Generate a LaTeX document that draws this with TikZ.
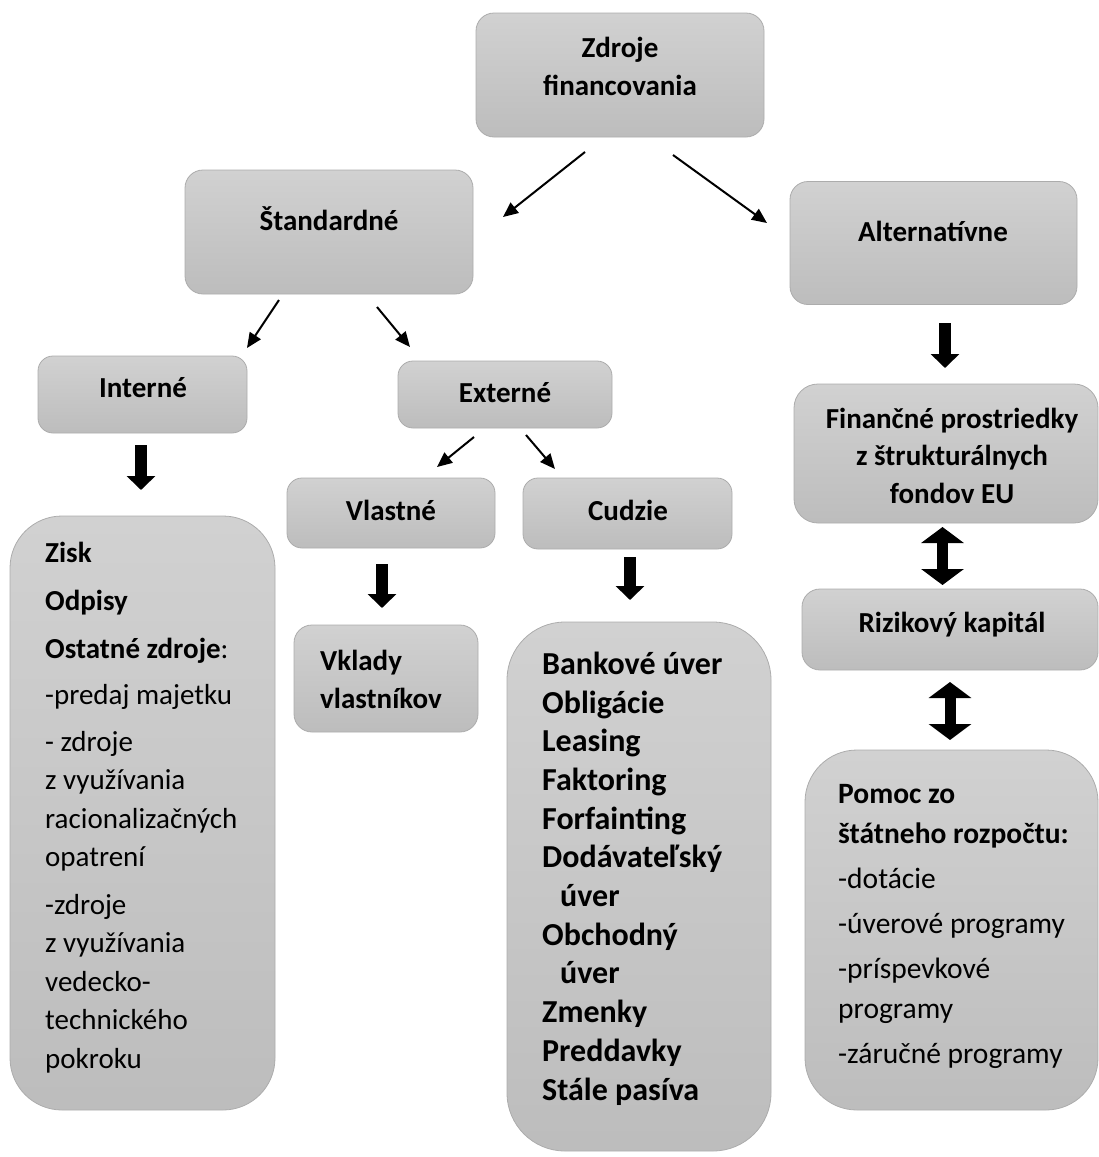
\documentclass[tikz,border=0pt]{standalone}
\usepackage{fontspec}
\setmainfont{Carlito}
\usetikzlibrary{arrows.meta}

\tikzset{
	box/.style={draw=gray!65, line width=0.8pt, rounded corners=18pt, top color=gray!36, bottom color=gray!52, inner sep=0pt},
	bigbox/.style={box, rounded corners=52pt},
	head/.style={font=\fontsize{29}{37.5}\selectfont\bfseries, align=center, inner sep=0pt},
	list/.style={font=\fontsize{29}{38.5}\selectfont, align=left, inner sep=0pt},
	thinarr/.style={line width=2pt, -{Triangle[length=15pt,width=13pt]}},
	blockarr/.style={line width=12pt, -{Triangle[length=14pt,width=28pt]}},
	dblarr/.style={line width=11pt, {Triangle[length=16pt,width=42pt]}-{Triangle[length=16pt,width=42pt]}}
}

\begin{document}
\begin{tikzpicture}[x=1pt,y=-1pt]
	\useasboundingbox (0,0) rectangle (1099,1157);

	% zeichne Boxen
	\node[box, minimum width=288pt, minimum height=124pt] (zdroje) at (620,75) {};
	\node[box, minimum width=288pt, minimum height=124pt] (standard) at (329,232) {};
	\node[box, minimum width=287pt, minimum height=123pt] (altern) at (933.5,243) {};
	\node[box, rounded corners=15pt, minimum width=209pt, minimum height=77pt] (interne) at (142.5,394.5) {};
	\node[box, rounded corners=15pt, minimum width=214pt, minimum height=67pt] (externe) at (505,394.5) {};
	\node[box, rounded corners=15pt, minimum width=208pt, minimum height=70pt] (vlastne) at (391,513) {};
	\node[box, rounded corners=15pt, minimum width=209pt, minimum height=71pt] (cudzie) at (627.5,513.5) {};
	\node[bigbox, minimum width=265pt, minimum height=594pt] (zoznamint) at (142.5,813) {};
	\node[box, minimum width=184pt, minimum height=107pt] (vklady) at (386,678.5) {};
	\node[bigbox, rounded corners=58pt, minimum width=264pt, minimum height=529pt] (zoznamcud) at (639,886.5) {};
	\node[box, rounded corners=24pt, minimum width=304pt, minimum height=139pt] (fondy) at (946,453.5) {};
	\node[box, minimum width=296pt, minimum height=81pt] (rizikovy) at (950,629.5) {};
	\node[bigbox, minimum width=293pt, minimum height=360pt] (pomoc) at (951.5,930) {};

	% zeichne Texte
	\node[head, anchor=base] (tzdroje) at (620,95) {Zdroje\\financovania};
	\node[head, anchor=base] (tstandard) at (329,230) {Štandardné};
	\node[head, anchor=base] (taltern) at (933,241) {Alternatívne};
	\node[head, anchor=base] (tinterne) at (143,397) {Interné};
	\node[head, anchor=base] (texterne) at (505,402) {Externé};
	\node[head, anchor=base] (tvlastne) at (391,520) {Vlastné};
	\node[head, anchor=base] (tcudzie) at (628,520) {Cudzie};
	\node[head, align=left, anchor=base west] (tvklady) at (320,708) {Vklady\\vlastníkov};
	\node[head, anchor=base] (tfondy) at (952,503) {Finančné prostriedky\\z štrukturálnych\\fondov EU};
	\node[head, anchor=base] (trizikovy) at (952,632) {Rizikový kapitál};
	\node[list, anchor=base west] (tzoznamint) at (45,1068) {\textbf{Zisk}\\[9.5pt]
		\textbf{Odpisy}\\[9.5pt]
		\textbf{Ostatné zdroje}:\\[8pt]
		-predaj majetku\\[8pt]
		- zdroje\\
		z využívania\\
		racionalizačných\\
		opatrení\\[9pt]
		-zdroje\\
		z využívania\\
		vedecko-\\
		technického\\
		pokroku};
	\node[list, font=\fontsize{32}{38.7}\selectfont\bfseries, anchor=base west] (tzoznamcud) at (542,1100) {Bankové úver\\
		Obligácie\\
		Leasing\\
		Faktoring\\
		Forfainting\\
		Dodávateľský\\
		\hspace*{18pt}úver\\
		Obchodný\\
		\hspace*{18pt}úver\\
		Zmenky\\
		Preddavky\\
		Stále pasíva};
	\node[list, font=\fontsize{29.5}{40}\selectfont, anchor=base west] (tpomoc) at (838,1063) {\textbf{Pomoc zo}\\
		\textbf{štátneho rozpočtu:}\\[5pt]
		-dotácie\\[5pt]
		-úverové programy\\[5pt]
		-príspevkové\\
		programy\\[5pt]
		-záručné programy};

	% zeichne Pfeile
	\coordinate (a1) at (585,152);
	\coordinate (a2) at (503,217);
	\coordinate (a3) at (673,155);
	\coordinate (a4) at (767,223);
	\coordinate (b1) at (279,300);
	\coordinate (b2) at (247,348);
	\coordinate (b3) at (377,307);
	\coordinate (b4) at (410,347);
	\coordinate (c1) at (474,437);
	\coordinate (c2) at (437,467);
	\coordinate (c3) at (526,435);
	\coordinate (c4) at (555,469);
	\draw[thinarr] (a1) -- (a2);
	\draw[thinarr] (a3) -- (a4);
	\draw[thinarr] (b1) -- (b2);
	\draw[thinarr] (b3) -- (b4);
	\draw[thinarr] (c1) -- (c2);
	\draw[thinarr] (c3) -- (c4);

	% zeichne Blockpfeile
	\coordinate (d1) at (141,445);
	\coordinate (d2) at (141,490);
	\coordinate (e1) at (382,564);
	\coordinate (e2) at (382,608);
	\coordinate (f1) at (630,557);
	\coordinate (f2) at (630,600);
	\coordinate (g1) at (945,323);
	\coordinate (g2) at (945,368);
	\coordinate (h1) at (942.5,527);
	\coordinate (h2) at (942.5,585);
	\coordinate (k1) at (950,682);
	\coordinate (k2) at (950,740);
	\draw[blockarr] (d1) -- (d2);
	\draw[blockarr] (e1) -- (e2);
	\draw[blockarr] (f1) -- (f2);
	\draw[blockarr] (g1) -- (g2);
	\draw[dblarr] (h1) -- (h2);
	\draw[dblarr] (k1) -- (k2);
\end{tikzpicture}
\end{document}
